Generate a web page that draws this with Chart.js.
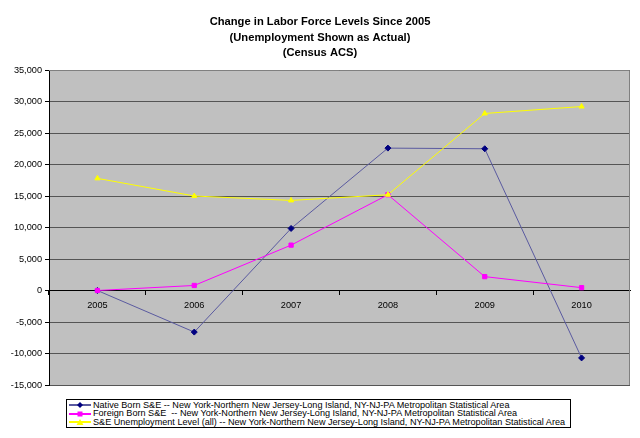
<!DOCTYPE html>
<html>
<head>
<meta charset="utf-8">
<script src="https://cdn.jsdelivr.net/npm/chart.js@4.4.0/dist/chart.umd.min.js"></script>
<style>
  html, body { margin: 0; padding: 0; background: #fff; }
  #wrap { position: relative; width: 640px; height: 438px; }
  #legend {
    position: absolute; left: 66px; top: 399px; width: 501px; height: 26px;
    border: 1px solid #000; background: #fff;
    font-family: 'Liberation Sans', Arial, sans-serif; font-size: 9.1px; color: #000;
    padding: 1px 0 0 2px; box-sizing: content-box;
  }
  .row { height: 8.4px; line-height: 8.4px; white-space: pre; display: flex; align-items: center; }
  .row svg { flex: none; margin-right: 2px; }
</style>
</head>
<body>
<div id="wrap">
  <canvas id="chart" width="640" height="438"></canvas>
  <div id="legend"></div>
</div>
<script>
// Data
const years = ['2005', '2006', '2007', '2008', '2009', '2010'];
const nativeBorn = [0, -6600, 9850, 22600, 22500, -10700];
const foreignBorn = [0, 800, 7200, 15200, 2200, 450];
const unemployment = [17800, 15000, 14300, 15200, 28100, 29200];

const titleLines = [
  'Change in Labor Force Levels Since 2005',
  '(Unemployment Shown as Actual)',
  '(Census ACS)'
];

const seriesNames = [
  'Native Born S&E -- New York-Northern New Jersey-Long Island, NY-NJ-PA Metropolitan Statistical Area',
  'Foreign Born S&E  -- New York-Northern New Jersey-Long Island, NY-NJ-PA Metropolitan Statistical Area',
  'S&E Unemployment Level (all) -- New York-Northern New Jersey-Long Island, NY-NJ-PA Metropolitan Statistical Area'
];
const seriesColors = ['#000080', '#FF00FF', '#FFFF00'];
const seriesMarkers = ['rectRot', 'rect', 'triangle'];
const seriesLines = ['#5a5aa0', '#FF00FF', '#FFFF00'];

const font = "'Liberation Sans', Arial, sans-serif";

// Plot background, border and title
const decor = {
  id: 'decor',
  beforeDraw(chart) {
    const { ctx, chartArea: a } = chart;
    ctx.save();
    ctx.fillStyle = '#C0C0C0';
    ctx.fillRect(a.left, a.top, a.right - a.left, a.bottom - a.top);
    ctx.fillStyle = '#000';
    ctx.font = 'bold 11.2px ' + font;
    ctx.textAlign = 'center';
    ctx.textBaseline = 'middle';
    titleLines.forEach((t, i) => ctx.fillText(t, 320, 22 + i * 15.7));
    ctx.restore();
  },
  afterDatasetsDraw(chart) {
    const { ctx, chartArea: a } = chart;
    ctx.save();
    ctx.strokeStyle = '#808080';
    ctx.lineWidth = 1;
    ctx.beginPath();
    ctx.moveTo(a.left, a.top + 0.5);
    ctx.lineTo(a.right - 0.5, a.top + 0.5);
    ctx.lineTo(a.right - 0.5, a.bottom);
    ctx.stroke();
    ctx.restore();
  }
};

const ctx = document.getElementById('chart').getContext('2d');
new Chart(ctx, {
  type: 'line',
  data: {
    labels: years,
    datasets: [nativeBorn, foreignBorn, unemployment].map((d, i) => ({
      label: seriesNames[i],
      data: d,
      borderColor: seriesLines[i],
      backgroundColor: seriesColors[i],
      pointBorderColor: seriesColors[i],
      pointStyle: seriesMarkers[i],
      pointRadius: 3,
      borderWidth: 1,
      tension: 0
    })).reverse()
  },
  options: {
    responsive: false,
    animation: false,
    layout: { padding: { top: 70, right: 10, bottom: 53, left: 0 } },
    plugins: { legend: { display: false }, title: { display: false }, tooltip: { enabled: false } },
    scales: {
      y: {
        min: -15000,
        max: 35000,
        afterFit(s) { s.width = 49; },
        ticks: {
          stepSize: 5000,
          padding: 3,
          color: '#000',
          font: { family: font, size: 9.2 },
          callback: v => v.toLocaleString('en-US')
        },
        grid: { color: '#555555', lineWidth: 1, tickLength: 4, tickColor: '#000' },
        border: { display: true, color: '#000' }
      },
      x: {
        position: { y: 0 },
        offset: true,
        ticks: { color: '#000', font: { family: font, size: 9.2 }, padding: 5, maxRotation: 0 },
        grid: { offset: true, drawOnChartArea: false, drawTicks: true, tickLength: 4, color: '#000' },
        border: { display: true, color: '#000' }
      }
    }
  },
  plugins: [decor]
});

// Legend as HTML
const legendEl = document.getElementById('legend');
const markerSvg = [
  '<polygon points="11,1 14,4 11,7 8,4" fill="#000080"/>',
  '<rect x="8.5" y="1.5" width="5" height="5" fill="#FF00FF"/>',
  '<polygon points="11,1 14.5,7 7.5,7" fill="#FFFF00"/>'
];
seriesNames.forEach((name, i) => {
  const row = document.createElement('div');
  row.className = 'row';
  row.innerHTML =
    '<svg width="22" height="8"><line x1="0" y1="4" x2="22" y2="4" stroke="' + seriesLines[i] +
    '" stroke-width="2"/>' + markerSvg[i] + '</svg>';
  const span = document.createElement('span');
  span.textContent = name;
  row.appendChild(span);
  legendEl.appendChild(row);
});
</script>
</body>
</html>
